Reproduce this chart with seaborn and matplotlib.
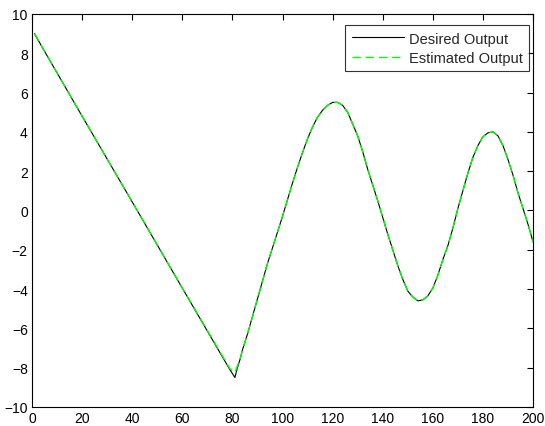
import matplotlib
matplotlib.use("Agg")
import matplotlib.pyplot as plt
import numpy as np
import pandas as pd
import seaborn as sns

# -----------------------------------------------------------------
# Data
# -----------------------------------------------------------------
k = [1, 5, 20, 42, 60, 79, 81, 82, 83, 84, 86, 88, 90, 92, 94, 96, 98,
     100, 102, 104, 106, 108, 110, 112, 114, 116, 118, 120, 122, 124, 126,
     128, 130, 132, 134, 136, 138, 140, 142, 144, 146, 148, 150, 152, 154,
     156, 158, 160, 162, 164, 166, 168, 170, 172, 174, 176, 178, 180, 182,
     184, 186, 188, 190, 192, 194, 196, 198, 200]

desired = [9.0, 8.1, 4.8, 0.0, -3.95, -8.1, -8.5, -8.0, -7.6, -7.1, -6.3,
           -5.4, -4.5, -3.6, -2.7, -1.9, -1.1, -0.3, 0.55, 1.4, 2.2, 2.95,
           3.65, 4.25, 4.75, 5.1, 5.35, 5.5, 5.5, 5.35, 5.0, 4.4, 3.8, 3.0,
           2.1, 1.3, 0.5, -0.35, -1.2, -2.0, -2.8, -3.5, -4.1, -4.4, -4.6,
           -4.55, -4.35, -3.95, -3.3, -2.5, -1.8, -0.9, 0.1, 1.0, 1.9, 2.7,
           3.3, 3.75, 3.95, 4.0, 3.8, 3.3, 2.6, 1.8, 0.9, 0.1, -0.7, -1.6]

estimated = [9.0, 8.1, 4.8, 0.0, -3.95, -8.05, -8.25, -7.9, -7.6, -7.1, -6.3,
             -5.4, -4.5, -3.6, -2.7, -1.9, -1.1, -0.3, 0.55, 1.4, 2.2, 2.95,
             3.65, 4.25, 4.75, 5.1, 5.35, 5.5, 5.5, 5.35, 5.0, 4.4, 3.8, 3.0,
             2.1, 1.3, 0.5, -0.35, -1.2, -2.0, -2.8, -3.5, -4.1, -4.4, -4.6,
             -4.55, -4.35, -3.95, -3.3, -2.5, -1.8, -0.9, 0.1, 1.0, 1.9, 2.7,
             3.3, 3.75, 3.95, 4.0, 3.8, 3.3, 2.6, 1.8, 0.9, 0.1, -0.7, -1.6]

x_ticks = np.arange(0, 201, 20)
y_ticks = np.arange(-10, 11, 2)

df = pd.DataFrame({"k": k, "desired": desired, "estimated": estimated})

# -----------------------------------------------------------------
# Plot
# -----------------------------------------------------------------
sns.set_style("white")
plt.rcParams["font.family"] = ["Liberation Sans", "DejaVu Sans"]

fig = plt.figure(figsize=(5.45, 4.27), dpi=100)
ax = fig.add_axes([0.0587, 0.0445, 0.9193, 0.9205])

sns.lineplot(data=df, x="k", y="desired", color="black", linewidth=0.8,
             label="Desired Output", ax=ax, sort=False)
sns.lineplot(data=df, x="k", y="estimated", color="#00ff00", linewidth=1.0,
             linestyle=(0, (6, 3.5)), label="Estimated Output", ax=ax, sort=False)

ax.set_xlim(0, 200)
ax.set_ylim(-10, 10)
ax.set_xticks(x_ticks)
ax.set_yticks(y_ticks)
ax.set_xlabel("")
ax.set_ylabel("")
ax.tick_params(direction="in", length=4, width=0.8, top=True, right=True,
               labelsize=10, colors="black", pad=3)
for s in ax.spines.values():
    s.set_color("black")
    s.set_linewidth(0.8)

leg = ax.legend(loc="upper right", bbox_to_anchor=(0.992, 0.972),
                fontsize=10.5, frameon=True, fancybox=False,
                handlelength=3.6, borderaxespad=0.0, borderpad=0.45,
                labelspacing=0.35, handletextpad=0.3)
leg.get_frame().set_edgecolor("black")
leg.get_frame().set_linewidth(0.8)

fig.savefig("out.png", dpi=100)
